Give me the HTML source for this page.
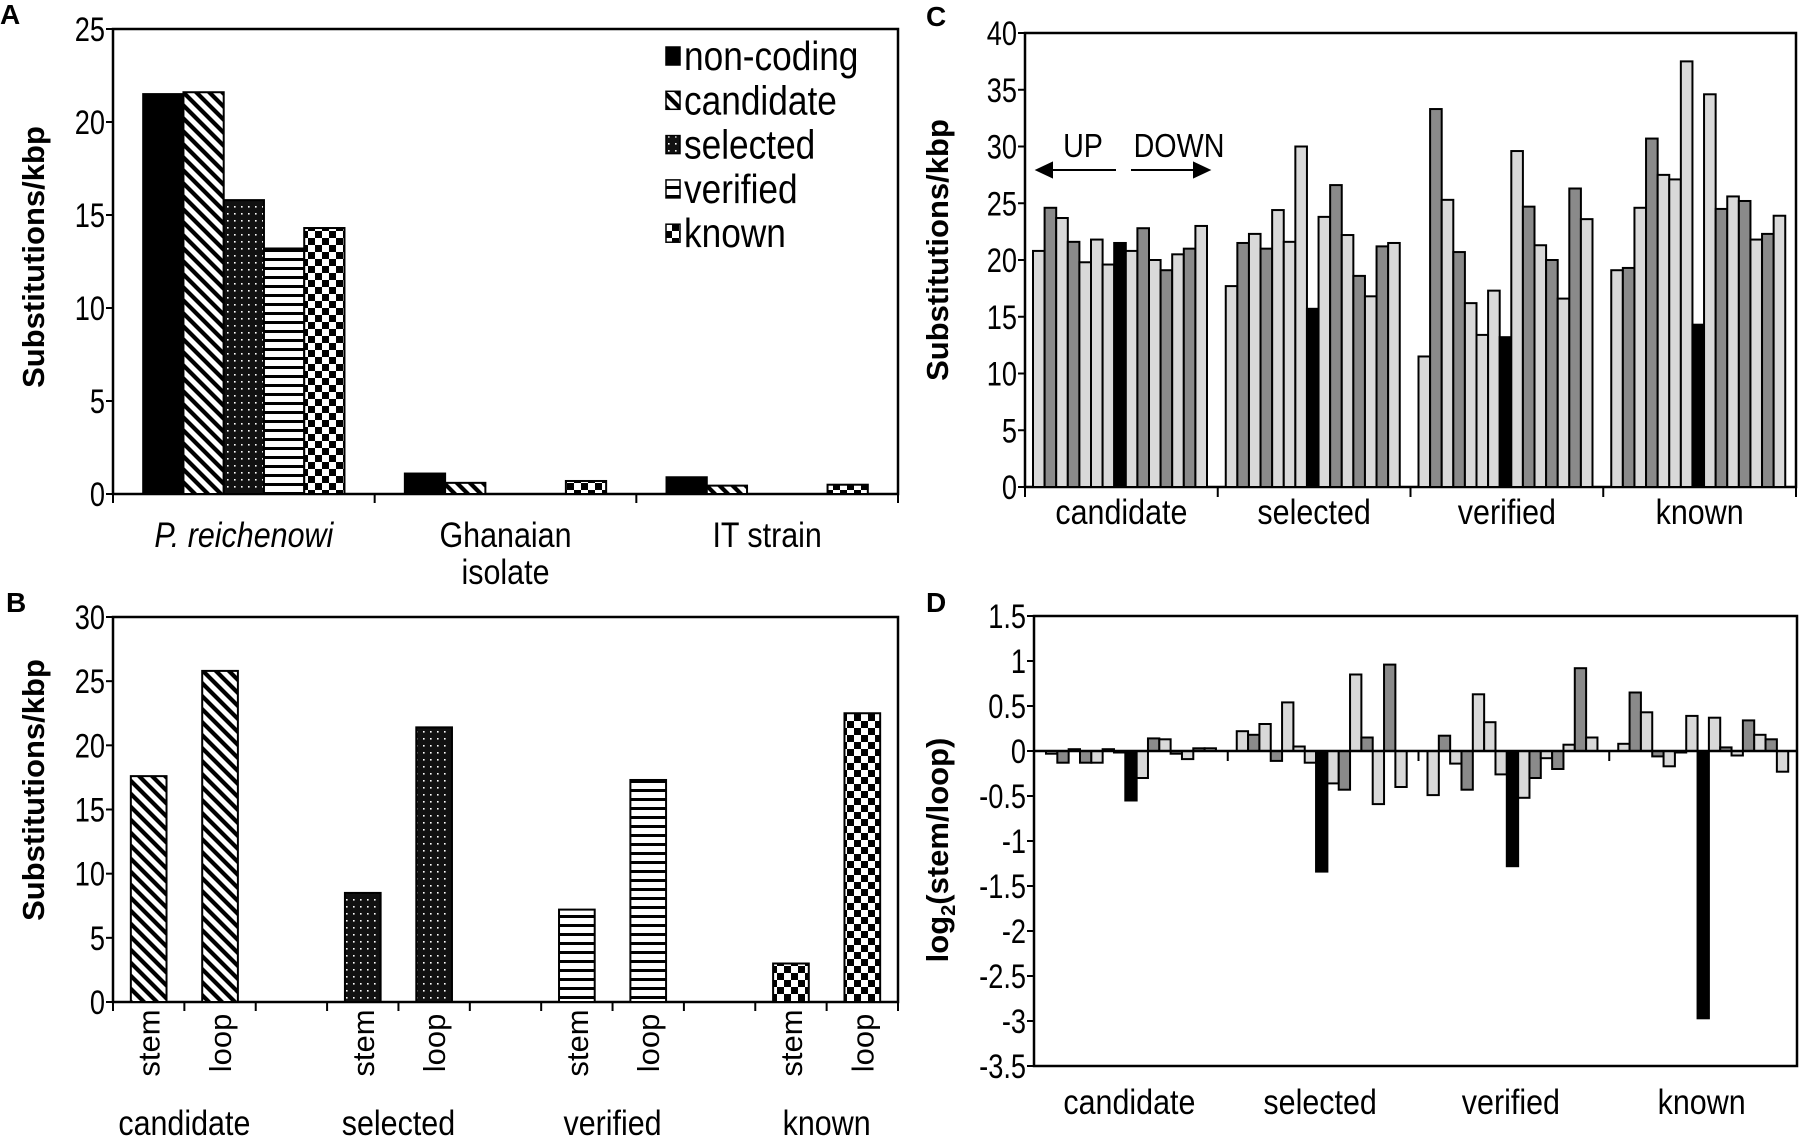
<!DOCTYPE html>
<html><head><meta charset="utf-8">
<style>
html,body{margin:0;padding:0;background:#fff;}
svg{display:block;font-family:"Liberation Sans",Arial,sans-serif;}
</style></head>
<body>
<svg id="fig" width="1800" height="1137" viewBox="0 0 1800 1137" xmlns="http://www.w3.org/2000/svg">
<defs>
  <pattern id="pDiag" width="13" height="13" patternUnits="userSpaceOnUse">
    <rect width="13" height="13" fill="#fff"/>
    <path d="M0,0 L13,13 M-4,9 L4,17 M9,-4 L17,4" stroke="#000" stroke-width="4.2"/>
  </pattern>
  <pattern id="pDots" width="7" height="7" patternUnits="userSpaceOnUse">
    <rect width="7" height="7" fill="#111"/>
    <rect x="3" y="3" width="1.6" height="1.6" fill="#fff"/>
  </pattern>
  <pattern id="pHstripe" width="9" height="9" patternUnits="userSpaceOnUse">
    <rect width="9" height="9" fill="#fff"/>
    <rect y="6" width="9" height="3" fill="#000"/>
  </pattern>
  <pattern id="pCheck" width="14" height="14" patternUnits="userSpaceOnUse">
    <rect width="14" height="14" fill="#fff"/>
    <rect width="7" height="7" fill="#000"/>
    <rect x="7" y="7" width="7" height="7" fill="#000"/>
  </pattern>
</defs>
<g id="panelA"></g>
<g id="panelB"></g>
<g id="panelC"></g>
<g id="panelD"></g>
</svg>
<script>
// ---------- Panel A data ----------
const aCategories = ["P. reichenowi", "Ghanaian isolate", "IT strain"];
const aSeriesNames = ["non-coding", "candidate", "selected", "verified", "known"];
const aNoncoding = [21.5, 1.1, 0.9];
const aCandidate = [21.6, 0.6, 0.45];
const aSelected = [15.8, 0, 0];
const aVerified = [13.2, 0, 0];
const aKnown = [14.3, 0.7, 0.5];
const aTicks = [0, 5, 10, 15, 20, 25];

// ---------- Panel B data ----------
const bCategories = ["candidate", "selected", "verified", "known"];
const bStem = [17.6, 8.5, 7.2, 3.0];
const bLoop = [25.8, 21.4, 17.3, 22.5];
const bTicks = [0, 5, 10, 15, 20, 25, 30];

// ---------- Panel C data ----------
const cGroups = ["candidate", "selected", "verified", "known"];
const cCandidate = [20.8, 24.6, 23.7, 21.6, 19.8, 21.8, 19.6, 21.5, 20.8, 22.8, 20.0, 19.1, 20.5, 21.0, 23.0];
const cSelected = [17.7, 21.5, 22.3, 21.0, 24.4, 21.6, 30.0, 15.7, 23.8, 26.6, 22.2, 18.6, 16.8, 21.2, 21.5];
const cVerified = [11.5, 33.3, 25.3, 20.7, 16.2, 13.4, 17.3, 13.2, 29.6, 24.7, 21.3, 20.0, 16.6, 26.3, 23.6];
const cKnown = [19.1, 19.3, 24.6, 30.7, 27.5, 27.1, 37.5, 14.3, 34.6, 24.5, 25.6, 25.2, 21.8, 22.3, 23.9];
const cTicks = [0, 5, 10, 15, 20, 25, 30, 35, 40];

// ---------- Panel D data ----------
const dGroups = ["candidate", "selected", "verified", "known"];
const dCandidate = [-0.03, -0.13, 0.02, -0.13, -0.13, 0.02, 0, -0.55, -0.30, 0.14, 0.13, -0.03, -0.09, 0.03, 0.03];
const dSelected = [0.22, 0.18, 0.30, -0.11, 0.54, 0.05, -0.13, -1.34, -0.36, -0.43, 0.85, 0.15, -0.59, 0.96, -0.40];
const dVerified = [-0.49, 0.17, -0.14, -0.43, 0.63, 0.32, -0.26, -1.28, -0.52, -0.30, -0.08, -0.20, 0.07, 0.92, 0.15];
const dKnown = [0.08, 0.65, 0.43, -0.06, -0.17, 0, 0.39, -2.97, 0.37, 0.04, -0.05, 0.34, 0.18, 0.13, -0.23];
const dTicks = [-3.5, -3, -2.5, -2, -1.5, -1, -0.5, 0, 0.5, 1, 1.5];

const barShade = ["L","D","L","D","L","L","L","K","L","D","L","D","L","D","L"];

const NS = "http://www.w3.org/2000/svg";
function mk(parent, tag, attrs, text) {
  const e = document.createElementNS(NS, tag);
  for (const k in attrs) e.setAttribute(k, attrs[k]);
  if (text !== undefined) e.textContent = text;
  parent.appendChild(e);
  return e;
}
// narrow text (Arial Narrow look)
function ntext(parent, x, y, size, anchor, str, sx, extra) {
  const a = {x: 0, y: 0, "font-size": size, "text-anchor": anchor, transform: "translate(" + x + "," + y + ") scale(" + sx + ",1)"};
  if (extra) for (const k in extra) a[k] = extra[k];
  return mk(parent, "text", a, str);
}
const shadeFill = {L: "#d9d9d9", D: "#8a8a8a", K: "#000"};
const TICK_FS = 34, TICK_SX = 0.8, LAB_FS = 35, LAB_SX = 0.87;

// ================= PANEL A =================
(function () {
  const g = document.getElementById("panelA");
  const X0 = 113, X1 = 898, Y0 = 494, YT = 29, VMAX = 25;
  const y = v => Y0 - (v / VMAX) * (Y0 - YT);
  const gw = (X1 - X0) / aCategories.length;
  const bw = gw / 6.5;
  const series = [aNoncoding, aCandidate, aSelected, aVerified, aKnown];
  const fills = ["#000", "url(#pDiag)", "url(#pDots)", "url(#pHstripe)", "url(#pCheck)"];

  let t = mk(g, "text", {x: 0, y: 24, "font-size": 28, "font-weight": "bold"}, "A");
  
  

  let box = mk(g, "rect", {x: X0, y: YT, width: X1 - X0, height: Y0 - YT, fill: "none", stroke: "#000", "stroke-width": 2.5});
  
  

  aTicks.forEach(v => {
    const tk = mk(g, "line", {x1: X0 - 7, x2: X0, y1: y(v), y2: y(v), stroke: "#000", "stroke-width": 2});
    
    
    const lb = ntext(g, X0 - 8, y(v) + 12, TICK_FS, "end", String(v), TICK_SX);
    
    
  });
  for (let i = 0; i <= aCategories.length; i++) {
    const tk = mk(g, "line", {x1: X0 + i * gw, x2: X0 + i * gw, y1: Y0, y2: Y0 + 9, stroke: "#000", "stroke-width": 2});
    
    
  }
  series.forEach((arr, s) => {
    arr.forEach((v, c) => {
      if (v <= 0) return;
      const bx = X0 + c * gw + 0.75 * bw + s * bw;
      const r = mk(g, "rect", {x: bx, y: y(v), width: bw, height: Y0 - y(v), fill: fills[s], stroke: "#000", "stroke-width": 2});
      
      
    });
  });
  const cx = i => X0 + (i + 0.5) * gw;
  let l1 = ntext(g, cx(0), 547, LAB_FS, "middle", "P. reichenowi", LAB_SX, {"font-style": "italic"});
  
  
  let l2 = ntext(g, cx(1), 547, LAB_FS, "middle", "Ghanaian", LAB_SX);
  
  
  let l3 = ntext(g, cx(1), 584, LAB_FS, "middle", "isolate", LAB_SX);
  
  
  let l4 = ntext(g, cx(2), 547, LAB_FS, "middle", "IT strain", LAB_SX);
  
  

  let yt = mk(g, "text", {x: 0, y: 0, "font-size": 31, "font-weight": "bold", "text-anchor": "middle", transform: "translate(44,257) rotate(-90)"}, "Substitutions/kbp");
  
  

  const lg = mk(g, "g", {});
  
  
  aSeriesNames.forEach((n, i) => {
    const ly = 56 + i * 44.3;
    const sq = mk(lg, "rect", {x: 666, y: ly - 9, width: 14, height: 18, fill: fills[i], stroke: "#000", "stroke-width": 1.5});
    
    
    const tx = ntext(lg, 684, ly + 14, 41, "start", n, 0.86);
    
    
  });
})();

// ================= PANEL B =================
(function () {
  const g = document.getElementById("panelB");
  const X0 = 113, X1 = 898, Y0 = 1002, YT = 617, VMAX = 30;
  const y = v => Y0 - (v / VMAX) * (Y0 - YT);
  const nCat = 11;
  const cw = (X1 - X0) / nCat;
  const bw = cw * 0.5;
  const fills = ["url(#pDiag)", "url(#pDots)", "url(#pHstripe)", "url(#pCheck)"];

  let t = mk(g, "text", {x: 6, y: 612, "font-size": 28, "font-weight": "bold"}, "B");
  
  

  let box = mk(g, "rect", {x: X0, y: YT, width: X1 - X0, height: Y0 - YT, fill: "none", stroke: "#000", "stroke-width": 2.5});
  
  

  bTicks.forEach(v => {
    const tk = mk(g, "line", {x1: X0 - 7, x2: X0, y1: y(v), y2: y(v), stroke: "#000", "stroke-width": 2});
    
    
    const lb = ntext(g, X0 - 8, y(v) + 12, TICK_FS, "end", String(v), TICK_SX);
    
    
  });
  for (let i = 0; i <= nCat; i++) {
    const tk = mk(g, "line", {x1: X0 + i * cw, x2: X0 + i * cw, y1: Y0, y2: Y0 + 9, stroke: "#000", "stroke-width": 2});
    
    
  }
  bCategories.forEach((name, k) => {
    const ci = [k * 3, k * 3 + 1];
    [bStem[k], bLoop[k]].forEach((v, j) => {
      const cx = X0 + (ci[j] + 0.5) * cw;
      const r = mk(g, "rect", {x: cx - bw / 2, y: y(v), width: bw, height: Y0 - y(v), fill: fills[k], stroke: "#000", "stroke-width": 2});
      
      
      const lb = mk(g, "text", {x: 0, y: 0, "font-size": 31, "text-anchor": "middle", transform: "translate(" + (cx + 11) + ",1043) rotate(-90)"}, j ? "loop" : "stem");
      
      
    });
    const gx = X0 + (k * 3 + 1) * cw;
    const gl = ntext(g, gx, 1135, LAB_FS, "middle", name, LAB_SX);
    
    
  });

  let yt = mk(g, "text", {x: 0, y: 0, "font-size": 31, "font-weight": "bold", "text-anchor": "middle", transform: "translate(44,790) rotate(-90)"}, "Substitutions/kbp");
  
  
})();

// ================= PANEL C =================
(function () {
  const g = document.getElementById("panelC");
  const X0 = 1025, X1 = 1796, Y0 = 487, YT = 33, VMAX = 40;
  const y = v => Y0 - (v / VMAX) * (Y0 - YT);
  const gw = (X1 - X0) / cGroups.length;
  const bw = 11.6, off = 8;
  const data = [cCandidate, cSelected, cVerified, cKnown];

  let t = mk(g, "text", {x: 926, y: 26, "font-size": 28, "font-weight": "bold"}, "C");
  
  

  let box = mk(g, "rect", {x: X0, y: YT, width: X1 - X0, height: Y0 - YT, fill: "none", stroke: "#000", "stroke-width": 2.5});
  
  

  cTicks.forEach(v => {
    const tk = mk(g, "line", {x1: X0 - 7, x2: X0, y1: y(v), y2: y(v), stroke: "#000", "stroke-width": 2});
    
    
    const lb = ntext(g, X0 - 8, y(v) + 12, TICK_FS, "end", String(v), TICK_SX);
    
    
  });
  for (let i = 0; i <= cGroups.length; i++) {
    const tk = mk(g, "line", {x1: X0 + i * gw, x2: X0 + i * gw, y1: Y0, y2: Y0 + 10, stroke: "#000", "stroke-width": 2});
    
    
  }
  data.forEach((arr, k) => {
    arr.forEach((v, i) => {
      const bx = X0 + k * gw + off + i * bw;
      const r = mk(g, "rect", {x: bx, y: y(v), width: bw, height: Y0 - y(v), fill: shadeFill[barShade[i]], stroke: "#000", "stroke-width": 2});
      
      
    });
    const gl = ntext(g, X0 + (k + 0.5) * gw, 524, LAB_FS, "middle", cGroups[k], LAB_SX);
    
    
  });

  let up = ntext(g, 1083, 157, 33, "middle", "UP", 0.87);
  
  
  let dn = ntext(g, 1179, 157, 33, "middle", "DOWN", 0.87);
  
  
  let a1 = mk(g, "path", {d: "M1116,170 L1050,170 M1037,170 L1052,163 L1052,177 Z", stroke: "#000", "stroke-width": 2, fill: "#000"});
  
  
  let a2 = mk(g, "path", {d: "M1131,170 L1196,170 M1209,170 L1194,163 L1194,177 Z", stroke: "#000", "stroke-width": 2, fill: "#000"});
  
  

  let yt = mk(g, "text", {x: 0, y: 0, "font-size": 31, "font-weight": "bold", "text-anchor": "middle", transform: "translate(948,250) rotate(-90)"}, "Substitutions/kbp");
  
  
})();

// ================= PANEL D =================
(function () {
  const g = document.getElementById("panelD");
  const X0 = 1034, X1 = 1797, YT = 616, YB = 1066, VMAX = 1.5, VMIN = -3.5;
  const y = v => YT + (VMAX - v) / (VMAX - VMIN) * (YB - YT);
  const gw = (X1 - X0) / dGroups.length;
  const bw = 11.33, off = 12;
  const data = [dCandidate, dSelected, dVerified, dKnown];

  let t = mk(g, "text", {x: 926, y: 612, "font-size": 28, "font-weight": "bold"}, "D");
  
  

  let box = mk(g, "rect", {x: X0, y: YT, width: X1 - X0, height: YB - YT, fill: "none", stroke: "#000", "stroke-width": 2.5});
  
  

  dTicks.forEach(v => {
    const tk = mk(g, "line", {x1: X0 - 7, x2: X0, y1: y(v), y2: y(v), stroke: "#000", "stroke-width": 2});
    
    
    const lb = ntext(g, X0 - 8, y(v) + 12, TICK_FS, "end", String(v), TICK_SX);
    
    
  });
  data.forEach((arr, k) => {
    arr.forEach((v, i) => {
      const bx = X0 + k * gw + off + i * bw;
      const top = Math.min(y(v), y(0));
      const h = Math.max(Math.abs(y(v) - y(0)), 1.5);
      const r = mk(g, "rect", {x: bx, y: top, width: bw, height: h, fill: shadeFill[barShade[i]], stroke: "#000", "stroke-width": 2});
      
      
    });
    const gl = ntext(g, X0 + (k + 0.5) * gw, 1114, LAB_FS, "middle", dGroups[k], LAB_SX);
    
    
  });
  const zl = mk(g, "line", {x1: X0, x2: X1, y1: y(0), y2: y(0), stroke: "#000", "stroke-width": 2.5});
  
  
  for (let i = 1; i < dGroups.length; i++) {
    const tk = mk(g, "line", {x1: X0 + i * gw + 3, x2: X0 + i * gw + 3, y1: y(0), y2: y(0) + 10, stroke: "#000", "stroke-width": 2});
    
    
  }

  const yt = mk(g, "text", {x: 0, y: 0, "font-size": 31, "font-weight": "bold", "text-anchor": "middle", transform: "translate(948,850) rotate(-90)"});
  
  
  mk(yt, "tspan", {}, "log");
  mk(yt, "tspan", {"font-size": 20, dy: 7}, "2");
  mk(yt, "tspan", {dy: -7}, "(stem/loop)");
})();
</script>
</body></html>
